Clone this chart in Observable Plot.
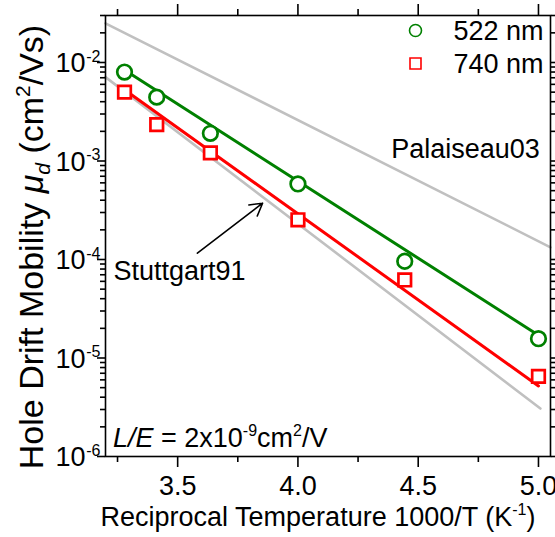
<!DOCTYPE html>
<html><head><meta charset="utf-8">
<script src="https://cdn.jsdelivr.net/npm/d3@7"></script>
<script src="https://cdn.jsdelivr.net/npm/@observablehq/plot@0.6"></script>
<style>
body{margin:0;background:#fff;}
#chart svg{font-family:"Liberation Sans",Arial,Helvetica,sans-serif;}
</style>
</head><body><div id="chart"></div>
<script>
// ---- data ----
const invT = [3.279, 3.413, 3.636, 4.0, 4.444, 5.0];
const mu522 = [8.0e-3, 4.45e-3, 1.91e-3, 5.85e-4, 9.6e-5, 1.57e-5];
const mu740 = [5.0e-3, 2.34e-3, 1.21e-3, 2.53e-4, 6.2e-5, 6.5e-6];
const fitX = [3.279, 5.0];
const fit522 = [8.4e-3, 1.7e-5];
const fit740 = [5.3e-3, 5.2e-6];
const palaiseauX = [3.2, 5.05];
const palaiseauY = [2.5e-2, 1.33e-4];
const stuttgartX = [3.2, 5.008];
const stuttgartY = [7.1e-3, 3.07e-6];
const seriesNames = ["522 nm", "740 nm"];
const seriesColors = ["#008000", "#ff0000"];
// ---- annotations ----
const annotText = ["Palaiseau03", "Stuttgart91"];
const annotX = [4.3875, 3.233];
const annotY = [1.30e-3, 7.5e-5];
const arrowFrom = [3.582, 1.16e-4];
const arrowTo = [3.853, 3.73e-4];
// ---- ticks ----
const xMajor = [3.5, 4.0, 4.5, 5.0];
const xMajorLabels = ["3.5", "4.0", "4.5", "5.0"];
const xMinor = [3.25, 3.75, 4.25, 4.75];
const yMajor = [1e-6, 1e-5, 1e-4, 1e-3, 1e-2];
const yMajorBase = ["10", "10", "10", "10", "10"];
const yMajorExp = ["-6", "-5", "-4", "-3", "-2"];
const yMinorMult = [2, 3, 4, 5, 6, 7, 8, 9];
const yMinor = [];
for (const d of yMajor) for (const m of yMinorMult) if (d * m <= 3.01e-2) yMinor.push(d * m);

const pts522 = invT.map((x, i) => ({x, y: mu522[i]}));
const pts740 = invT.map((x, i) => ({x, y: mu740[i]}));
const line = (xs, ys) => xs.map((x, i) => ({x, y: ys[i]}));
const annots = annotText.map((t, i) => ({t, x: annotX[i], y: annotY[i]}));

const FS = 27;
const blank = () => "";

const chart = Plot.plot({
  width: 555, height: 537,
  marginLeft: 105, marginRight: 5, marginTop: 15, marginBottom: 81,
  style: {fontFamily: '"Liberation Sans", Arial, sans-serif', fontSize: FS + "px", color: "#000", background: "#fff"},
  x: {domain: [3.2, 5.05]},
  y: {type: "log", domain: [1e-6, 3e-2]},
  marks: [
    // reference lines
    Plot.line(line(palaiseauX, palaiseauY), {x: "x", y: "y", stroke: "#c0c0c0", strokeWidth: 2.6}),
    Plot.line(line(stuttgartX, stuttgartY), {x: "x", y: "y", stroke: "#c0c0c0", strokeWidth: 2.6}),
    // fits
    Plot.line(line(fitX, fit522), {x: "x", y: "y", stroke: seriesColors[0], strokeWidth: 3}),
    Plot.line(line(fitX, fit740), {x: "x", y: "y", stroke: seriesColors[1], strokeWidth: 3}),
    // data
    Plot.dot(pts522, {x: "x", y: "y", r: 7.3, symbol: "circle", stroke: seriesColors[0], fill: "#fff", strokeWidth: 2.7}),
    Plot.dot(pts740, {x: "x", y: "y", r: 7.1, symbol: "square", stroke: seriesColors[1], fill: "#fff", strokeWidth: 2.7}),
    // annotations
    Plot.text(annots, {x: "x", y: "y", text: "t", textAnchor: "start", lineAnchor: "middle", fontSize: FS, fill: "#000"}),
    Plot.arrow([0], {x1: () => arrowFrom[0], y1: () => arrowFrom[1], x2: () => arrowTo[0], y2: () => arrowTo[1], stroke: "#000", strokeWidth: 1.6, headLength: 13}),
    // legend
    Plot.dot([seriesNames[0]], {frameAnchor: "top-right", dx: -135, dy: 15, r: 6, symbol: "circle", stroke: seriesColors[0], strokeWidth: 1.6, fill: "none"}),
    Plot.dot([seriesNames[1]], {frameAnchor: "top-right", dx: -135, dy: 48, r: 6.2, symbol: "square", stroke: seriesColors[1], strokeWidth: 1.6, fill: "none"}),
    Plot.text([seriesNames[0]], {frameAnchor: "top-right", dx: -97, dy: 15.4, text: d => d, textAnchor: "start", lineAnchor: "middle", fontSize: FS, fill: "#000"}),
    Plot.text([seriesNames[1]], {frameAnchor: "top-right", dx: -97, dy: 49, text: d => d, textAnchor: "start", lineAnchor: "middle", fontSize: FS, fill: "#000"}),
    // axes
    Plot.frame({stroke: "#000", strokeWidth: 1.6}),
    Plot.axisX(xMajor, {anchor: "bottom", tickSize: 11, tickPadding: 8, tickFormat: (d, i) => xMajorLabels[xMajor.indexOf(d)], fontSize: FS, label: null, strokeWidth: 1.6, fill: "#000"}),
    Plot.axisX(xMinor, {anchor: "bottom", tickSize: 6, tickFormat: blank, label: null, strokeWidth: 1.6}),
    Plot.axisX(xMajor, {anchor: "top", tickSize: 12, tickFormat: blank, label: null, strokeWidth: 1.6}),
    Plot.axisX(xMinor, {anchor: "top", tickSize: 7, tickFormat: blank, label: null, strokeWidth: 1.6}),
    Plot.axisY(yMajor, {anchor: "left", tickSize: 8, tickFormat: blank, label: null, strokeWidth: 1.6}),
    Plot.axisY(yMinor, {anchor: "left", tickSize: 5, tickFormat: blank, label: null, strokeWidth: 1.6}),
    Plot.axisY(yMajor, {anchor: "right", tickSize: 8, tickFormat: blank, label: null, strokeWidth: 1.6}),
    Plot.axisY(yMinor, {anchor: "right", tickSize: 5, tickFormat: blank, label: null, strokeWidth: 1.6}),
    // y tick labels 10^n
    Plot.text(yMajor, {frameAnchor: "left", y: d => d, text: (d, i) => yMajorBase[i], textAnchor: "end", lineAnchor: "middle", dx: -20, dy: 1, fontSize: FS, fill: "#000"}),
    Plot.text(yMajor, {frameAnchor: "left", y: d => d, text: (d, i) => yMajorExp[i], textAnchor: "end", lineAnchor: "middle", dx: -5, dy: -6, fontSize: 16, fill: "#000"})
  ]
});

const svg = d3.select(chart);
// y axis title
const yl = svg.append("text").attr("transform", "translate(43,247) rotate(-90)")
  .attr("text-anchor", "middle").attr("font-size", 34).attr("fill", "#000");
yl.append("tspan").text("Hole Drift Mobility ");
yl.append("tspan").attr("font-style", "italic").text("\u03bc");
yl.append("tspan").attr("font-style", "italic").attr("font-size", 21).attr("dy", 7).text("d");
yl.append("tspan").attr("dy", -7).text(" (cm");
yl.append("tspan").attr("font-size", 21).attr("dy", -13).text("2");
yl.append("tspan").attr("dy", 13).text("/Vs)");
// x axis title
const xl = svg.append("text").attr("x", 318).attr("y", 526)
  .attr("text-anchor", "middle").attr("font-size", FS).attr("fill", "#000");
xl.append("tspan").text("Reciprocal Temperature 1000/T (K");
xl.append("tspan").attr("font-size", 16).attr("dy", -11).text("-1");
xl.append("tspan").attr("dy", 11).text(")");
// L/E annotation
const le = svg.append("text").attr("x", 113).attr("y", 447)
  .attr("text-anchor", "start").attr("font-size", FS).attr("fill", "#000");
le.append("tspan").attr("font-style", "italic").text("L/E");
le.append("tspan").text(" = 2x10");
le.append("tspan").attr("font-size", 16).attr("dy", -11).text("-9");
le.append("tspan").attr("dy", 11).text("cm");
le.append("tspan").attr("font-size", 16).attr("dy", -11).text("2");
le.append("tspan").attr("dy", 11).text("/V");

document.getElementById("chart").appendChild(chart);
</script>
</body></html>
